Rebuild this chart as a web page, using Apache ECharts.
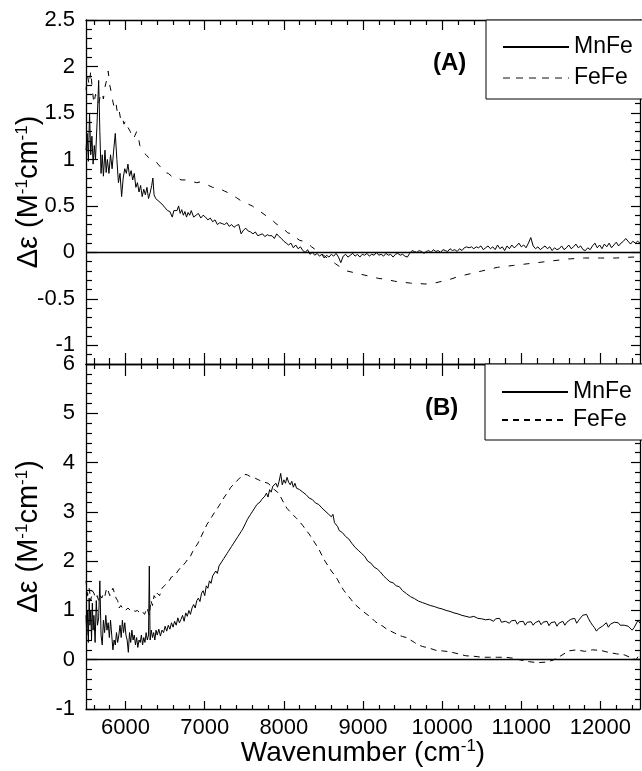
<!DOCTYPE html>
<html><head><meta charset="utf-8">
<script src="https://cdn.jsdelivr.net/npm/echarts@6/dist/echarts.min.js"></script>
<style>html,body{margin:0;padding:0;background:#fff}#c{width:642px;height:771px}</style>
</head><body><div id="c"></div><script>
// ---------- DATA ----------
const xTickLabels = [6000, 7000, 8000, 9000, 10000, 11000, 12000];
const xMinorTicks = [5600, 5800, 6200, 6400, 6600, 6800, 7200, 7400, 7600, 7800, 8200, 8400, 8600, 8800, 9200, 9400, 9600, 9800, 10200, 10400, 10600, 10800, 11200, 11400, 11600, 11800, 12200, 12400];
const yTickLabelsA = [-1, -0.5, 0, 0.5, 1, 1.5, 2, 2.5];
const yMinorTicksA = [-1.1, -0.9, -0.8, -0.7, -0.6, -0.4, -0.3, -0.2, -0.1, 0.1, 0.2, 0.3, 0.4, 0.6, 0.7, 0.8, 0.9, 1.1, 1.2, 1.3, 1.4, 1.6, 1.7, 1.8, 1.9, 2.1, 2.2, 2.3, 2.4];
const yTickLabelsB = [-1, 0, 1, 2, 3, 4, 5, 6];
const yMinorTicksB = [-0.8, -0.6, -0.4, -0.2, 0.2, 0.4, 0.6, 0.8, 1.2, 1.4, 1.6, 1.8, 2.2, 2.4, 2.6, 2.8, 3.2, 3.4, 3.6, 3.8, 4.2, 4.4, 4.6, 4.8, 5.2, 5.4, 5.6, 5.8];
const zeroLevel = 0;

// Panel A, MnFe: [wavenumber, delta-epsilon]
const mnFeA = [[5500,1.1],[5515,1.28],[5530,0.98],[5545,1.5],[5560,1.05],[5575,1.25],[5590,0.95],[5605,1.15],[5620,1.0],[5640,1.4],[5660,1.85],[5675,1.3],[5690,0.85],[5705,1.05],[5720,0.82],[5740,1.1],[5755,0.86],[5770,1.0],[5790,0.85],[5810,1.05],[5830,0.9],[5850,1.1],[5870,1.28],[5890,1.0],[5910,0.75],[5930,0.85],[5950,0.6],[5970,0.8],[5990,0.9],[6010,0.85],[6030,0.95],[6050,0.82],[6070,0.88],[6090,0.78],[6110,0.85],[6130,0.7],[6150,0.75],[6170,0.65],[6190,0.72],[6210,0.6],[6230,0.68],[6250,0.62],[6270,0.7],[6290,0.58],[6310,0.64],[6330,0.72],[6345,0.8],[6360,0.62],[6380,0.58],[6400,0.6],[6420,0.55],[6440,0.56],[6460,0.52],[6480,0.5],[6500,0.48],[6530,0.45],[6560,0.44],[6590,0.38],[6610,0.45],[6630,0.47],[6650,0.45],[6670,0.5],[6690,0.42],[6710,0.46],[6730,0.4],[6750,0.44],[6770,0.38],[6790,0.43],[6810,0.4],[6830,0.45],[6860,0.38],[6890,0.4],[6920,0.42],[6950,0.37],[6980,0.4],[7010,0.38],[7040,0.35],[7070,0.37],[7100,0.33],[7130,0.35],[7160,0.3],[7190,0.32],[7220,0.31],[7250,0.3],[7280,0.32],[7310,0.28],[7340,0.3],[7370,0.27],[7400,0.29],[7430,0.3],[7460,0.2],[7490,0.24],[7520,0.26],[7550,0.23],[7580,0.22],[7610,0.2],[7640,0.22],[7670,0.18],[7700,0.19],[7730,0.2],[7760,0.17],[7790,0.19],[7820,0.18],[7850,0.18],[7880,0.15],[7910,0.2],[7940,0.17],[7970,0.15],[8000,0.12],[8030,0.1],[8060,0.08],[8090,0.1],[8120,0.05],[8150,0.08],[8180,0.04],[8210,0.06],[8240,0.02],[8270,0.0],[8300,0.03],[8330,-0.02],[8360,0.0],[8390,-0.03],[8420,-0.01],[8450,-0.04],[8480,-0.02],[8510,-0.06],[8540,-0.03],[8570,-0.05],[8600,-0.02],[8630,-0.04],[8660,-0.01],[8690,-0.05],[8720,-0.11],[8750,-0.04],[8780,-0.02],[8810,-0.05],[8840,-0.03],[8870,-0.01],[8900,-0.04],[8930,-0.02],[8960,-0.05],[8990,-0.02],[9020,-0.03],[9050,-0.01],[9080,-0.04],[9110,-0.02],[9140,-0.03],[9170,0.0],[9200,-0.03],[9230,-0.02],[9260,-0.04],[9290,-0.01],[9320,-0.03],[9350,-0.02],[9380,-0.05],[9410,-0.02],[9440,-0.01],[9470,-0.03],[9500,-0.02],[9530,-0.04],[9560,-0.05],[9590,-0.01],[9620,0.02],[9650,0.01],[9680,0.0],[9710,0.02],[9740,0.01],[9770,-0.01],[9800,0.01],[9830,0.02],[9860,0.0],[9890,0.03],[9920,0.01],[9950,0.02],[9980,0.0],[10010,0.03],[10040,0.02],[10070,0.01],[10100,0.04],[10130,0.02],[10160,0.03],[10190,0.01],[10220,0.04],[10250,0.02],[10280,0.05],[10310,0.06],[10340,0.05],[10370,0.06],[10400,0.04],[10430,0.06],[10460,0.05],[10490,0.07],[10520,0.03],[10550,0.05],[10580,0.07],[10610,0.04],[10640,0.06],[10670,0.03],[10700,0.08],[10730,0.04],[10760,0.06],[10790,0.02],[10820,0.07],[10850,0.04],[10880,0.08],[10910,0.05],[10940,0.07],[10970,0.1],[11000,0.06],[11030,0.08],[11060,0.05],[11090,0.1],[11120,0.16],[11150,0.07],[11180,0.04],[11210,0.06],[11240,0.03],[11270,0.05],[11300,0.07],[11330,0.04],[11360,0.06],[11390,0.02],[11420,0.05],[11450,0.03],[11480,0.04],[11510,0.07],[11540,0.03],[11570,0.05],[11600,0.08],[11630,0.04],[11660,0.06],[11690,0.09],[11720,0.05],[11750,0.07],[11780,0.03],[11810,0.02],[11840,0.05],[11870,0.03],[11900,0.07],[11930,0.1],[11960,0.05],[11990,0.08],[12020,0.04],[12050,0.09],[12080,0.06],[12110,0.1],[12140,0.05],[12170,0.08],[12200,0.11],[12230,0.07],[12260,0.1],[12290,0.12],[12320,0.15],[12350,0.12],[12380,0.09],[12410,0.12],[12440,0.1],[12470,0.12],[12500,0.1]];

// Panel A, FeFe
const feFeA = [[5500,1.75],[5520,1.9],[5540,1.8],[5560,1.95],[5580,1.75],[5600,1.6],[5620,1.7],[5640,1.65],[5660,1.6],[5680,1.68],[5700,1.72],[5720,1.65],[5740,1.78],[5760,1.85],[5780,1.95],[5800,1.8],[5820,1.72],[5840,1.62],[5860,1.55],[5880,1.6],[5900,1.48],[5920,1.52],[5940,1.42],[5960,1.45],[5980,1.38],[6000,1.42],[6020,1.36],[6040,1.38],[6060,1.3],[6080,1.25],[6100,1.22],[6120,1.26],[6140,1.3],[6160,1.25],[6180,1.15],[6200,1.12],[6230,1.07],[6260,1.05],[6290,1.02],[6320,1.0],[6350,1.0],[6380,0.98],[6410,0.95],[6440,0.92],[6470,0.9],[6500,0.86],[6540,0.85],[6580,0.82],[6620,0.8],[6660,0.8],[6700,0.78],[6750,0.78],[6800,0.77],[6850,0.76],[6900,0.75],[6950,0.76],[7000,0.74],[7050,0.72],[7100,0.7],[7150,0.7],[7200,0.68],[7250,0.66],[7300,0.64],[7350,0.61],[7400,0.59],[7450,0.56],[7500,0.54],[7550,0.52],[7600,0.5],[7650,0.47],[7700,0.44],[7750,0.41],[7800,0.38],[7850,0.35],[7900,0.31],[7950,0.28],[8000,0.25],[8050,0.21],[8100,0.2],[8150,0.16],[8200,0.13],[8250,0.12],[8300,0.1],[8350,0.06],[8400,0.03],[8450,0.0],[8500,-0.03],[8550,-0.06],[8600,-0.09],[8650,-0.12],[8700,-0.15],[8750,-0.18],[8800,-0.2],[8900,-0.22],[9000,-0.24],[9100,-0.26],[9200,-0.28],[9300,-0.29],[9400,-0.31],[9500,-0.32],[9600,-0.33],[9700,-0.335],[9800,-0.34],[9900,-0.33],[10000,-0.31],[10100,-0.29],[10200,-0.26],[10300,-0.24],[10400,-0.22],[10500,-0.2],[10600,-0.18],[10700,-0.16],[10800,-0.15],[10900,-0.14],[11000,-0.13],[11100,-0.12],[11200,-0.11],[11300,-0.1],[11400,-0.09],[11500,-0.08],[11600,-0.07],[11700,-0.065],[11800,-0.06],[11900,-0.06],[12000,-0.06],[12100,-0.06],[12200,-0.06],[12300,-0.055],[12400,-0.05],[12500,-0.05]];

// Panel B, MnFe
const mnFeB = [[5500,0.9],[5510,0.5],[5520,1.0],[5530,0.35],[5540,1.25],[5550,0.7],[5560,1.0],[5570,0.4],[5580,1.15],[5590,0.6],[5600,0.9],[5615,0.35],[5630,1.2],[5645,0.7],[5660,0.85],[5675,1.6],[5690,0.5],[5705,0.3],[5720,0.8],[5735,0.55],[5750,0.9],[5765,0.6],[5780,0.75],[5795,0.45],[5810,0.8],[5825,0.5],[5840,0.2],[5855,0.4],[5870,0.3],[5885,0.55],[5900,0.35],[5915,0.5],[5930,0.7],[5945,0.45],[5960,0.8],[5975,0.55],[5990,0.75],[6005,0.5],[6020,0.4],[6035,0.15],[6050,0.55],[6065,0.35],[6080,0.6],[6095,0.4],[6110,0.5],[6125,0.3],[6140,0.45],[6155,0.25],[6170,0.4],[6185,0.35],[6200,0.5],[6215,0.3],[6230,0.45],[6245,0.35],[6260,0.55],[6275,0.4],[6290,0.5],[6300,1.9],[6310,0.4],[6325,0.6],[6340,0.45],[6355,0.55],[6370,0.4],[6385,0.6],[6400,0.5],[6420,0.62],[6440,0.48],[6460,0.6],[6480,0.55],[6500,0.68],[6520,0.58],[6540,0.7],[6560,0.62],[6580,0.75],[6600,0.66],[6620,0.78],[6640,0.7],[6660,0.85],[6680,0.75],[6700,0.82],[6720,0.9],[6740,0.78],[6760,0.95],[6780,0.88],[6800,1.0],[6820,0.92],[6840,1.05],[6860,1.12],[6880,1.05],[6900,1.2],[6920,1.25],[6940,1.18],[6960,1.35],[6980,1.4],[7000,1.3],[7020,1.5],[7040,1.45],[7060,1.6],[7080,1.55],[7100,1.7],[7120,1.68],[7140,1.8],[7160,1.75],[7180,1.9],[7200,1.88],[7220,2.0],[7240,2.05],[7260,2.02],[7280,2.15],[7300,2.2],[7320,2.18],[7340,2.3],[7360,2.35],[7380,2.32],[7400,2.45],[7420,2.5],[7440,2.48],[7460,2.6],[7480,2.65],[7500,2.62],[7520,2.78],[7540,2.85],[7560,2.82],[7580,2.95],[7600,3.0],[7620,2.98],[7640,3.1],[7660,3.15],[7680,3.12],[7700,3.2],[7720,3.25],[7740,3.22],[7760,3.32],[7780,3.38],[7800,3.3],[7820,3.45],[7840,3.4],[7860,3.52],[7880,3.48],[7900,3.58],[7920,3.5],[7940,3.62],[7960,3.78],[7980,3.55],[8000,3.65],[8020,3.58],[8040,3.7],[8060,3.6],[8080,3.55],[8100,3.62],[8120,3.5],[8140,3.58],[8160,3.48],[8180,3.52],[8200,3.45],[8220,3.48],[8240,3.4],[8260,3.42],[8280,3.35],[8300,3.36],[8320,3.28],[8340,3.3],[8360,3.25],[8380,3.26],[8400,3.18],[8420,3.22],[8440,3.15],[8460,3.16],[8480,3.08],[8500,3.1],[8520,3.02],[8540,3.05],[8560,2.96],[8580,2.98],[8600,2.9],[8620,2.95],[8640,2.78],[8660,2.82],[8680,2.7],[8700,2.62],[8720,2.66],[8740,2.58],[8760,2.62],[8780,2.5],[8800,2.52],[8820,2.45],[8840,2.48],[8860,2.36],[8880,2.4],[8900,2.28],[8920,2.3],[8940,2.22],[8960,2.25],[8980,2.16],[9000,2.18],[9020,2.1],[9040,2.12],[9060,2.0],[9080,2.04],[9100,1.96],[9120,1.98],[9140,1.88],[9160,1.92],[9180,1.84],[9200,1.86],[9220,1.78],[9240,1.8],[9260,1.7],[9280,1.72],[9300,1.64],[9320,1.66],[9340,1.58],[9360,1.62],[9380,1.56],[9400,1.58],[9420,1.5],[9440,1.54],[9460,1.48],[9480,1.46],[9500,1.4],[9525,1.42],[9550,1.34],[9575,1.36],[9600,1.28],[9625,1.3],[9650,1.24],[9675,1.26],[9700,1.19],[9725,1.22],[9750,1.16],[9775,1.18],[9800,1.13],[9825,1.16],[9850,1.1],[9875,1.13],[9900,1.08],[9925,1.11],[9950,1.05],[9975,1.08],[10000,1.03],[10025,1.06],[10050,1.0],[10075,1.04],[10100,0.98],[10125,1.01],[10150,0.95],[10175,0.98],[10200,0.93],[10225,0.96],[10250,0.9],[10275,0.94],[10300,0.88],[10325,0.92],[10350,0.86],[10375,0.9],[10400,0.88],[10425,0.92],[10450,0.84],[10475,0.88],[10500,0.83],[10525,0.87],[10550,0.81],[10575,0.85],[10600,0.82],[10625,0.86],[10650,0.78],[10675,0.83],[10700,0.8],[10725,0.84],[10750,0.76],[10775,0.8],[10800,0.78],[10825,0.82],[10850,0.74],[10875,0.79],[10900,0.76],[10925,0.8],[10950,0.72],[10975,0.77],[11000,0.74],[11025,0.78],[11050,0.7],[11075,0.76],[11100,0.73],[11125,0.77],[11150,0.7],[11175,0.75],[11200,0.75],[11225,0.79],[11250,0.71],[11275,0.76],[11300,0.74],[11325,0.78],[11350,0.69],[11375,0.75],[11400,0.72],[11425,0.77],[11450,0.68],[11475,0.74],[11500,0.73],[11525,0.78],[11550,0.7],[11575,0.76],[11600,0.76],[11625,0.82],[11650,0.78],[11675,0.84],[11700,0.74],[11725,0.8],[11750,0.82],[11775,0.9],[11800,0.86],[11825,0.92],[11850,0.83],[11875,0.76],[11900,0.7],[11925,0.65],[11950,0.58],[11975,0.63],[12000,0.6],[12025,0.68],[12050,0.7],[12075,0.75],[12100,0.66],[12125,0.72],[12150,0.7],[12175,0.76],[12200,0.72],[12225,0.75],[12250,0.7],[12275,0.74],[12300,0.7],[12325,0.73],[12350,0.68],[12375,0.66],[12400,0.6],[12425,0.65],[12450,0.68],[12475,0.8],[12500,0.74]];

// Panel B, FeFe
const feFeB = [[5500,1.6],[5520,1.3],[5540,1.45],[5560,1.2],[5580,1.4],[5600,1.35],[5620,1.25],[5640,1.3],[5660,1.2],[5680,1.3],[5700,1.25],[5720,1.35],[5740,1.3],[5760,1.45],[5780,1.4],[5800,1.3],[5820,1.38],[5840,1.45],[5860,1.35],[5880,1.25],[5900,1.2],[5920,1.05],[5940,1.1],[5960,1.05],[5980,1.08],[6000,1.0],[6030,1.05],[6060,1.0],[6090,1.02],[6120,0.98],[6150,1.0],[6180,0.95],[6210,0.98],[6240,0.92],[6270,1.05],[6300,0.9],[6320,1.2],[6340,1.1],[6360,1.3],[6380,1.25],[6400,1.35],[6430,1.3],[6460,1.45],[6490,1.5],[6520,1.55],[6550,1.6],[6580,1.68],[6610,1.7],[6640,1.75],[6670,1.82],[6700,1.88],[6730,1.92],[6760,1.98],[6790,2.05],[6820,2.1],[6850,2.2],[6880,2.28],[6910,2.35],[6940,2.45],[6970,2.55],[7000,2.65],[7030,2.75],[7060,2.82],[7090,2.9],[7120,2.98],[7150,3.05],[7180,3.12],[7210,3.2],[7240,3.28],[7270,3.35],[7300,3.42],[7330,3.5],[7360,3.55],[7390,3.6],[7420,3.65],[7450,3.7],[7480,3.72],[7510,3.76],[7540,3.75],[7570,3.72],[7600,3.7],[7640,3.68],[7680,3.65],[7720,3.62],[7760,3.6],[7800,3.58],[7840,3.52],[7880,3.45],[7920,3.4],[7960,3.3],[8000,3.18],[8040,3.07],[8080,3.0],[8120,2.93],[8160,2.87],[8200,2.8],[8240,2.72],[8280,2.63],[8320,2.55],[8360,2.45],[8400,2.35],[8440,2.25],[8480,2.12],[8520,2.0],[8560,1.9],[8600,1.8],[8640,1.72],[8680,1.62],[8720,1.5],[8760,1.4],[8800,1.32],[8850,1.22],[8900,1.12],[8950,1.05],[9000,0.98],[9050,0.92],[9100,0.86],[9150,0.78],[9200,0.72],[9250,0.68],[9300,0.62],[9350,0.58],[9400,0.54],[9450,0.5],[9500,0.47],[9550,0.45],[9600,0.4],[9650,0.35],[9700,0.3],[9750,0.27],[9800,0.25],[9850,0.23],[9900,0.2],[9950,0.18],[10000,0.18],[10100,0.16],[10200,0.12],[10300,0.08],[10400,0.07],[10500,0.05],[10600,0.05],[10700,0.05],[10800,0.05],[10900,0.03],[11000,-0.01],[11100,-0.04],[11200,-0.06],[11300,-0.05],[11400,-0.01],[11500,0.08],[11600,0.18],[11700,0.2],[11800,0.17],[11900,0.2],[12000,0.19],[12100,0.15],[12200,0.12],[12300,0.1],[12400,0.03],[12450,0.0],[12500,0.12]];

// ---------- CHART ----------
const FONT = '"Liberation Sans", Arial, Helvetica, sans-serif';
const xRange = [5500, 12500];
const yRangeA = [-1.2, 2.5];
const yRangeB = [-1, 6];

const xAxes = [], yAxes = [];
function xAx(grid, pos, ticks, len, line, labels, name) {
  const a = {
    type: 'value', gridIndex: grid, position: pos, min: xRange[0], max: xRange[1],
    axisLine: { show: line, onZero: false, lineStyle: { color: '#000', width: 1.3 } },
    axisTick: { show: true, inside: true, length: len, customValues: ticks, lineStyle: { color: '#000', width: 1.2 } },
    axisLabel: labels ? { show: true, customValues: labels, margin: 8, fontSize: 22, color: '#000', fontFamily: FONT,
                          formatter: v => String(v) } : { show: false },
    splitLine: { show: false }
  };
  if (name) {
    a.name = '{n|Wavenumber (cm}{s|-1}{n|)}';
    a.nameLocation = 'middle';
    a.nameGap = 29;
    a.nameMoveOverlap = false;
    a.nameTextStyle = { fontFamily: FONT, color: '#000',
      rich: { n: { fontSize: 28, fontFamily: FONT, color: '#000', lineHeight: 30 },
              s: { fontSize: 17, fontFamily: FONT, color: '#000', verticalAlign: 'top', lineHeight: 30, padding: [0, 0, 11, 0] } } };
  }
  xAxes.push(a);
  return xAxes.length - 1;
}
function yAx(grid, pos, rng, ticks, len, line, labels, name) {
  const a = {
    type: 'value', gridIndex: grid, position: pos, min: rng[0], max: rng[1],
    axisLine: { show: line, onZero: false, lineStyle: { color: '#000', width: 1.3 } },
    axisTick: { show: true, inside: true, length: len, customValues: ticks, lineStyle: { color: '#000', width: 1.2 } },
    axisLabel: labels ? { show: true, customValues: labels, margin: 11, fontSize: 22, color: '#000', fontFamily: FONT,
                          formatter: v => String(v) } : { show: false },
    splitLine: { show: false }
  };
  if (name) {
    a.name = '{n|Δε (M}{s|-1}{n|cm}{s|-1}{n|)}';
    a.nameLocation = 'middle';
    a.nameGap = 42;
    a.nameMoveOverlap = false;
    a.nameTextStyle = { fontFamily: FONT, color: '#000',
      rich: { n: { fontSize: 29, fontFamily: FONT, color: '#000', lineHeight: 30 },
              s: { fontSize: 17, fontFamily: FONT, color: '#000', verticalAlign: 'top', lineHeight: 30, padding: [0, 0, 11, 0] } } };
  }
  yAxes.push(a);
  return yAxes.length - 1;
}

// Panel A (grid 0)
const xA = xAx(0, 'bottom', xTickLabels, 11, true, null, false);
xAx(0, 'bottom', xMinorTicks, 6, false, null, false);
xAx(0, 'top', xTickLabels, 10, true, null, false);
xAx(0, 'top', xMinorTicks, 5, false, null, false);
const yA = yAx(0, 'left', yRangeA, yTickLabelsA, 12, true, yTickLabelsA, true);
yAx(0, 'left', yRangeA, yMinorTicksA, 6, false, null, false);
yAx(0, 'right', yRangeA, yTickLabelsA, 9, true, null, false);
yAx(0, 'right', yRangeA, yMinorTicksA, 5, false, null, false);
// Panel B (grid 1)
const xB = xAx(1, 'bottom', xTickLabels, 8, true, xTickLabels, true);
xAx(1, 'bottom', xMinorTicks, 4, false, null, false);
xAx(1, 'top', xTickLabels, 12, true, null, false);
xAx(1, 'top', xMinorTicks, 5, false, null, false);
const yB = yAx(1, 'left', yRangeB, yTickLabelsB, 12, true, yTickLabelsB, true);
yAx(1, 'left', yRangeB, yMinorTicksB, 6, false, null, false);
yAx(1, 'right', yRangeB, yTickLabelsB, 9, true, null, false);
yAx(1, 'right', yRangeB, yMinorTicksB, 5, false, null, false);

function lineSeries(name, data, xi, yi, dash, zero) {
  const s = {
    name: name, type: 'line', data: data, xAxisIndex: xi, yAxisIndex: yi,
    showSymbol: false, symbol: 'none', smooth: false, animation: false, silent: true,
    lineStyle: { color: '#000', width: 1, type: dash || 'solid' }, itemStyle: { color: '#000' }
  };
  if (zero) {
    s.markLine = { silent: true, symbol: 'none', label: { show: false }, animation: false,
      lineStyle: { color: '#000', width: 1.3, type: 'solid' }, data: [{ yAxis: zeroLevel }] };
  }
  return s;
}

const legendCommon = {
  orient: 'vertical', backgroundColor: '#fff', borderColor: '#000', borderWidth: 1, borderRadius: 0,
  itemWidth: 66, itemHeight: 12, selectedMode: false,
  itemStyle: { opacity: 0 },
  formatter: n => n.split(' ')[0],
  textStyle: { fontSize: 23, fontFamily: FONT, color: '#000', lineHeight: 24 }
};

const option = {
  backgroundColor: '#fff',
  animation: false,
  grid: [
    { left: 86, top: 20, width: 554, height: 344, containLabel: false, outerBoundsMode: 'none' },
    { left: 86, top: 364, width: 554, height: 345, containLabel: false, outerBoundsMode: 'none' }
  ],
  xAxis: xAxes,
  yAxis: yAxes,
  legend: [
    Object.assign({}, legendCommon, { left: 486, top: 20, padding: [15, 30, 9, 16], itemGap: 7,
      data: ['MnFe A', { name: 'FeFe A', lineStyle: { color: '#888', type: [7, 6] } }] }),
    Object.assign({}, legendCommon, { left: 485, top: 364, padding: [16, 30, 8, 16], itemGap: 4,
      data: ['MnFe B', 'FeFe B'] })
  ],
  graphic: [
    { type: 'text', left: 433, top: 51, style: { text: '(A)', fontSize: 24, fontWeight: 'bold', fontFamily: FONT, fill: '#000' } },
    { type: 'text', left: 425, top: 396, style: { text: '(B)', fontSize: 24, fontWeight: 'bold', fontFamily: FONT, fill: '#000' } }
  ],
  series: [
    lineSeries('MnFe A', mnFeA, xA, yA, 'solid', true),
    lineSeries('FeFe A', feFeA, xA, yA, [6, 9], false),
    lineSeries('MnFe B', mnFeB, xB, yB, 'solid', true),
    lineSeries('FeFe B', feFeB, xB, yB, [6, 5], false)
  ]
};
const chart = echarts.init(document.getElementById('c'), null, { renderer: 'canvas' });
chart.setOption(option);
</script></body></html>
